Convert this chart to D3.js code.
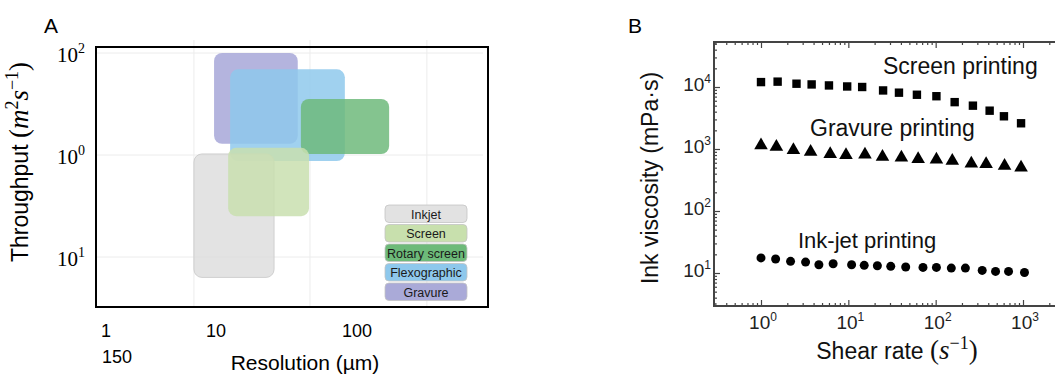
<!DOCTYPE html>
<html>
<head>
<meta charset="utf-8">
<script src="https://cdn.jsdelivr.net/npm/d3@7"></script>
<style>
  body { margin: 0; background: #fff; }
  text { font-family: "Liberation Sans", Arial, sans-serif; }
  .math { font-family: "Liberation Serif", "Times New Roman", serif; }
</style>
</head>
<body>
<svg id="chart" width="1055" height="376"></svg>
<script>
// ---- Panel A: printing technology map ----
var techNames = ['Gravure', 'Flexographic', 'Rotary screen', 'Inkjet', 'Screen'];
var techColors = ['#a6a6d8', '#8ec8ec', '#6cb97a', '#dcdcdc', '#c8dfae'];
// resolution range (µm) and throughput range (as exponent position)
var techResLow = [9.6, 12.6, 40, 6.3, 12.2];
var techResHigh = [38, 82, 169, 25.8, 45.7];
var techThrLow = [1.11, 0.94, 1.01, -0.2, 0.4];
var techThrHigh = [2.0, 1.84, 1.55, 1.01, 1.07];

var legendNames = ['Inkjet', 'Screen', 'Rotary screen', 'Flexographic', 'Gravure'];
var legendColors = ['#e2e2e2', '#c8e0ad', '#6dba79', '#8ec8ec', '#aaaad8'];

var aXTickVals = [1, 10, 100];
var aXTickLabels = ['1', '10', '100'];
var aXGrid = [6.3, 46.4, 313];
var aYTickVals = [2, 1, 0];
var aYTickExp = ['2', '0', '1'];

// ---- Panel B: viscosity vs shear rate ----
var screenRate = [1.0, 1.55, 2.55, 3.8, 6.0, 9.7, 14.4, 25, 38, 61, 102, 165, 267, 415, 605, 950];
var screenVisc = [12000, 12200, 11300, 11000, 10600, 10200, 10000, 8800, 8100, 7500, 7100, 5700, 5000, 4150, 3370, 2600];
var gravureRate = [1.0, 1.5, 2.35, 3.7, 6.2, 9.4, 15.5, 24.6, 40.5, 63, 102, 155, 256, 378, 615, 950];
var gravureVisc = [1170, 1100, 975, 917, 841, 811, 830, 762, 743, 699, 690, 656, 595, 580, 545, 512];
var inkjetRate = [1.0, 1.47, 2.18, 3.24, 4.6, 6.7, 10.9, 15.2, 21.5, 30.6, 45.4, 71.6, 102, 151, 219, 341, 485, 683, 1040];
var inkjetVisc = [17.5, 16.8, 15.4, 15.0, 13.6, 14.1, 13.6, 13.3, 13.1, 12.8, 12.5, 12.3, 12.3, 12.0, 12.0, 11.0, 10.6, 10.6, 10.2];

var bXTicks = [1, 10, 100, 1000];
var bYTicks = [10, 100, 1000, 10000];

var svg = d3.select('#chart');

// ================= Panel A =================
var xA = d3.scaleLog().domain([1, 10, 100]).range([106, 216, 357]);
var yA = d3.scaleLinear().domain([0, 2]).range([257, 53]);
var aLeft = 96, aRight = 488, aTop = 47, aBottom = 307;

var gA = svg.append('g');

// grid
gA.selectAll('.gx').data(aXGrid).enter().append('line')
    .attr('x1', function(d) { return xA(d); }).attr('x2', function(d) { return xA(d); })
    .attr('y1', 40).attr('y2', aBottom)
    .attr('stroke', '#ececec').attr('stroke-width', 1);
gA.selectAll('.gy').data(aYTickVals).enter().append('line')
    .attr('x1', aLeft).attr('x2', 483)
    .attr('y1', function(d) { return yA(d); }).attr('y2', function(d) { return yA(d); })
    .attr('stroke', '#ececec').attr('stroke-width', 1);

// technology boxes
var techData = techNames.map(function(n, i) {
    return { name: n, color: techColors[i], x0: techResLow[i], x1: techResHigh[i], y0: techThrLow[i], y1: techThrHigh[i] };
});
gA.selectAll('rect.tech').data(techData).enter().append('rect')
    .attr('class', 'tech')
    .attr('x', function(d) { return xA(d.x0); })
    .attr('y', function(d) { return yA(d.y1); })
    .attr('width', function(d) { return xA(d.x1) - xA(d.x0); })
    .attr('height', function(d) { return yA(d.y0) - yA(d.y1); })
    .attr('rx', 8)
    .attr('fill', function(d) { return d.color; })
    .attr('fill-opacity', function(d) { return d.name == 'Inkjet' ? 0.8 : 0.84; })
    .attr('stroke', function(d) { return d.name == 'Inkjet' ? '#cfcfcf' : 'none'; })
    .attr('stroke-width', 1);

// frame
gA.append('rect')
    .attr('x', aLeft).attr('y', aTop)
    .attr('width', aRight - aLeft).attr('height', aBottom - aTop)
    .attr('fill', 'none').attr('stroke', '#000').attr('stroke-width', 2);

// legend
var leg = gA.selectAll('.leg').data(legendNames).enter().append('g')
    .attr('transform', function(d, i) { return 'translate(385,' + (205 + i * 19.5) + ')'; });
leg.append('rect')
    .attr('width', 82).attr('height', 17.5).attr('rx', 4)
    .attr('fill', function(d, i) { return legendColors[i]; })
    .attr('stroke', '#c4c4c4').attr('stroke-width', 0.8);
leg.append('text')
    .attr('x', 41).attr('y', 13.5)
    .attr('text-anchor', 'middle')
    .attr('font-size', 12.5)
    .attr('fill', '#1a1a1a')
    .text(function(d) { return d; });

// x tick labels
gA.selectAll('.xtl').data(aXTickVals).enter().append('text')
    .attr('x', function(d) { return xA(d); })
    .attr('y', 337)
    .attr('text-anchor', 'middle')
    .attr('font-size', 18)
    .text(function(d, i) { return aXTickLabels[i]; });
gA.append('text').attr('x', 117).attr('y', 363).attr('text-anchor', 'middle')
    .attr('font-size', 18).text('150');

// y tick labels (10^n)
var ytl = gA.selectAll('.ytl').data(aYTickVals).enter().append('text')
    .attr('class', 'math')
    .attr('x', 85)
    .attr('y', function(d) { return yA(d) + 9; })
    .attr('text-anchor', 'end')
    .attr('font-size', 21);
ytl.append('tspan').text('10');
ytl.append('tspan').attr('dy', -9).attr('font-size', 14).text(function(d, i) { return aYTickExp[i]; });

// axis titles
gA.append('text').attr('x', 305).attr('y', 370).attr('text-anchor', 'middle')
    .attr('font-size', 21).text('Resolution (\u00b5m)');

var yTitleA = gA.append('text')
    .attr('transform', 'translate(28,162) rotate(-90)')
    .attr('text-anchor', 'middle')
    .attr('font-size', 23);
yTitleA.append('tspan').text('Throughput ');
yTitleA.append('tspan').attr('class', 'math').attr('font-size', 27).text('(');
yTitleA.append('tspan').attr('class', 'math').attr('font-size', 27).attr('font-style', 'italic').text('m');
yTitleA.append('tspan').attr('class', 'math').attr('font-size', 18).attr('dy', -10).text('2');
yTitleA.append('tspan').attr('class', 'math').attr('font-size', 27).attr('font-style', 'italic').attr('dy', 10).text('s');
yTitleA.append('tspan').attr('class', 'math').attr('font-size', 18).attr('dy', -10).text('\u22121');
yTitleA.append('tspan').attr('class', 'math').attr('font-size', 27).attr('dy', 10).text(')');

gA.append('text').attr('x', 44).attr('y', 33).attr('font-size', 21).text('A');

// ================= Panel B =================
var xB = d3.scaleLog().domain([1, 1000]).range([761, 1023]);
var yB = d3.scaleLog().domain([10, 10000]).range([273, 87]);
var bLeft = 714, bRight = 1055, bTop = 42, bBottom = 306;

var gB = svg.append('g');

function minorTicks(lo, hi) {
    var out = [];
    for (var e = -1; e <= 5; e++) {
        for (var m = 2; m <= 9; m++) {
            var v = m * Math.pow(10, e);
            if (v > lo && v < hi) out.push(v);
        }
    }
    return out;
}
var bXMinor = minorTicks(xB.invert(bLeft), xB.invert(bRight));
var bYMinor = minorTicks(yB.invert(bBottom), yB.invert(bTop));

var axisColor = '#444';
function styleAxis(g) {
    g.select('.domain').remove();
    g.selectAll('.tick line').attr('stroke', axisColor).attr('stroke-width', 1.2);
}

gB.append('g').attr('transform', 'translate(' + bLeft + ',0)')
    .call(d3.axisLeft(yB).tickValues(bYTicks).tickSize(-6).tickFormat('')).call(styleAxis);
gB.append('g').attr('transform', 'translate(' + bLeft + ',0)')
    .call(d3.axisLeft(yB).tickValues(bYMinor).tickSize(-3).tickFormat('')).call(styleAxis);
gB.append('g').attr('transform', 'translate(0,' + bBottom + ')')
    .call(d3.axisBottom(xB).tickValues(bXTicks).tickSize(-6).tickFormat('')).call(styleAxis);
gB.append('g').attr('transform', 'translate(0,' + bBottom + ')')
    .call(d3.axisBottom(xB).tickValues(bXMinor).tickSize(-3).tickFormat('')).call(styleAxis);
gB.append('g').attr('transform', 'translate(0,' + bTop + ')')
    .call(d3.axisTop(xB).tickValues(bXTicks).tickSize(-6).tickFormat('')).call(styleAxis);
gB.append('g').attr('transform', 'translate(0,' + bTop + ')')
    .call(d3.axisTop(xB).tickValues(bXMinor).tickSize(-3).tickFormat('')).call(styleAxis);

// frame lines (left, bottom, top)
gB.append('path')
    .attr('d', 'M' + bRight + ',' + bTop + 'H' + bLeft + 'V' + bBottom + 'H' + bRight)
    .attr('fill', 'none').attr('stroke', axisColor).attr('stroke-width', 2);

// tick labels
var bYtl = gB.selectAll('.bytl').data(bYTicks).enter().append('text')
    .attr('x', 711)
    .attr('y', function(d) { return yB(d) + 4; })
    .attr('text-anchor', 'end')
    .attr('font-size', 19)
    .attr('fill', '#222');
bYtl.append('tspan').text('10');
bYtl.append('tspan').attr('dy', -8).attr('font-size', 12).text(function(d) { return Math.round(Math.log10(d)); });

var bXtl = gB.selectAll('.bxtl').data(bXTicks).enter().append('text')
    .attr('x', function(d) { return xB(d) + 2; })
    .attr('y', 329)
    .attr('text-anchor', 'middle')
    .attr('font-size', 19)
    .attr('fill', '#222');
bXtl.append('tspan').text('10');
bXtl.append('tspan').attr('dy', -8).attr('font-size', 12).text(function(d) { return Math.round(Math.log10(d)); });

// markers
gB.selectAll('rect.sq').data(screenRate).enter().append('rect')
    .attr('class', 'sq')
    .attr('x', function(d) { return xB(d) - 4.2; })
    .attr('y', function(d, i) { return yB(screenVisc[i]) - 4.2; })
    .attr('width', 8.4).attr('height', 8.4)
    .attr('fill', '#000');

var tri = d3.symbol().type(d3.symbolTriangle).size(80);
gB.selectAll('path.tri').data(gravureRate).enter().append('path')
    .attr('class', 'tri')
    .attr('d', tri)
    .attr('transform', function(d, i) { return 'translate(' + xB(d) + ',' + (yB(gravureVisc[i]) + 0.5) + ')'; })
    .attr('fill', '#000');

gB.selectAll('circle.dot').data(inkjetRate).enter().append('circle')
    .attr('class', 'dot')
    .attr('cx', function(d) { return xB(d); })
    .attr('cy', function(d, i) { return yB(inkjetVisc[i]); })
    .attr('r', 4.5)
    .attr('fill', '#000');

// annotations
gB.append('text').attr('x', 883).attr('y', 74).attr('font-size', 23).attr('fill', '#111').text('Screen printing');
gB.append('text').attr('x', 810).attr('y', 136).attr('font-size', 23).attr('fill', '#111').text('Gravure printing');
gB.append('text').attr('x', 798).attr('y', 248).attr('font-size', 22).attr('fill', '#111').text('Ink-jet printing');

// axis titles
gB.append('text').attr('x', 897).attr('y', 359).attr('text-anchor', 'middle')
    .attr('font-size', 23).attr('fill', '#111')
    .call(function(t) {
        t.append('tspan').text('Shear rate ');
        t.append('tspan').attr('class', 'math').attr('font-size', 27).text('(');
        t.append('tspan').attr('class', 'math').attr('font-size', 27).attr('font-style', 'italic').text('s');
        t.append('tspan').attr('class', 'math').attr('font-size', 18).attr('dy', -10).text('\u22121');
        t.append('tspan').attr('class', 'math').attr('font-size', 27).attr('dy', 10).text(')');
    });

gB.append('text')
    .attr('transform', 'translate(658,178) rotate(-90)')
    .attr('text-anchor', 'middle')
    .attr('font-size', 23)
    .attr('fill', '#111')
    .text('Ink viscosity (mPa\u00b7s)');

gB.append('text').attr('x', 628).attr('y', 33).attr('font-size', 21).text('B');
</script>
</body>
</html>
